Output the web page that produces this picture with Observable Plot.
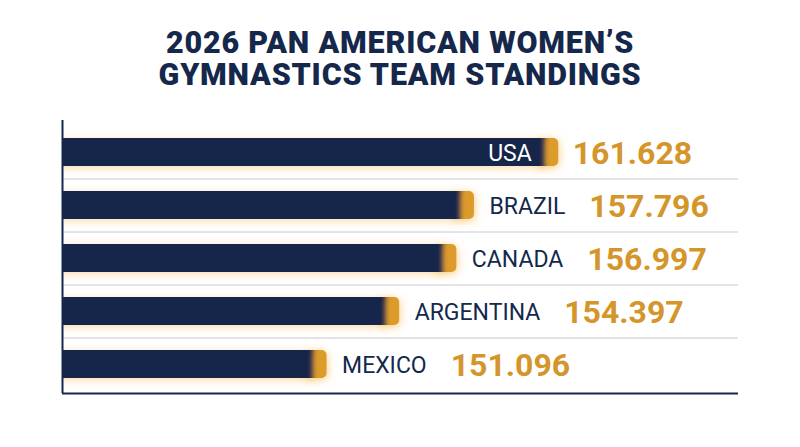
<!DOCTYPE html>
<html>
<head>
<meta charset="utf-8">
<script src="https://cdn.jsdelivr.net/npm/d3@7"></script>
<script src="https://cdn.jsdelivr.net/npm/@observablehq/plot@0.6"></script>
<style>
  html, body { margin: 0; padding: 0; background: #ffffff; }
  #wrap { width: 800px; height: 447px; position: relative; overflow: hidden; }
  #title {
    height: 100px; box-sizing: border-box; padding-top: 27px;
    text-align: center; font-family: Roboto, sans-serif; font-weight: 900;
    font-size: 30.5px; line-height: 32px; letter-spacing: 0.8px; color: #15284b;
  }
  svg { display: block; }
</style>
</head>
<body>
<div id="wrap">
  <div id="title">2026 PAN AMERICAN WOMEN’S<br>GYMNASTICS TEAM STANDINGS</div>
  <div id="chart"></div>
</div>
<script>
const countries = ["USA", "BRAZIL", "CANADA", "ARGENTINA", "MEXICO"];
const scores = [161.628, 157.796, 156.997, 154.397, 151.096];
const scoreLabels = ["161.628", "157.796", "156.997", "154.397", "151.096"];
const xDomain = [139.07, 169.8];

const NAVY = "#13284c";
const GOLD = "#dc9b2a";
const GOLD_TEXT = "#d4952a";

const labelFont = "400 23px Roboto";
const ctx = document.createElement("canvas").getContext("2d");
ctx.font = labelFont;

const data = countries.map((c, i) => ({
  country: c,
  score: scores[i],
  label: scoreLabels[i],
  inside: i === 0,
  nameWidth: ctx.measureText(c).width
}));

const step = 53.04;

const plot = Plot.plot({
  width: 800,
  height: 347,
  marginLeft: 62,
  marginRight: 62,
  marginTop: 20,
  marginBottom: 54,
  x: { domain: xDomain, axis: null },
  y: { type: "band", domain: countries, range: [25.5, 290.7], paddingInner: 0.474, paddingOuter: 0.237, axis: null },
  marks: [
    Plot.ruleY(countries.slice(0, -1), { y: d => d, dy: step / 2, stroke: "#c6cad0", strokeWidth: 1.2 }),
    Plot.ruleY(countries.slice(-1), { y: d => d, dy: 29, stroke: NAVY, strokeWidth: 2 }),
    Plot.barX(data, { x1: "score", x2: "score", y: "country", insetLeft: -22, fill: GOLD, rx: 5, ariaDescription: "cap" }),
    Plot.barX(data, { x1: xDomain[0], x2: "score", y: "country", insetLeft: -14, insetRight: 13, fill: NAVY, clip: true, ariaDescription: "bar" }),
    Plot.ruleX([xDomain[0]], { stroke: NAVY, strokeWidth: 2 }),
    Plot.text(data.filter(d => d.inside), { x: "score", y: "country", text: "country", textAnchor: "end", dx: -27, dy: 1, fill: "#ffffff", fontSize: 23, fontFamily: "Roboto", fontWeight: 400 }),
    Plot.text(data.filter(d => !d.inside), { x: "score", y: "country", text: "country", textAnchor: "start", dx: 15, dy: 1, fill: NAVY, fontSize: 23, fontFamily: "Roboto", fontWeight: 400 }),
    ...data.map(d => Plot.text([d], { x: "score", y: "country", text: "label", textAnchor: "start", dx: d.inside ? 14 : 15 + d.nameWidth + 24, dy: 1, fill: GOLD_TEXT, fontSize: 32, fontFamily: "Roboto", fontWeight: 700 }))
  ]
});

// glow + soft edge filters
const ns = "http://www.w3.org/2000/svg";
const defs = document.createElementNS(ns, "defs");
defs.innerHTML = `
  <filter id="glowCap" x="-60%" y="-60%" width="220%" height="220%">
    <feGaussianBlur in="SourceAlpha" stdDeviation="4" result="b"/>
    <feOffset in="b" dx="1" dy="2" result="o"/>
    <feFlood flood-color="#f6b23f" flood-opacity="0.6"/>
    <feComposite in2="o" operator="in" result="s"/>
    <feMerge><feMergeNode in="s"/><feMergeNode in="SourceGraphic"/></feMerge>
  </filter>
  <filter id="glowBar" x="-5%" y="-60%" width="110%" height="220%">
    <feGaussianBlur in="SourceGraphic" stdDeviation="2.5 0" result="soft"/>
    <feGaussianBlur in="SourceAlpha" stdDeviation="4" result="b"/>
    <feOffset in="b" dx="0" dy="2" result="o"/>
    <feFlood flood-color="#f6b23f" flood-opacity="0.45"/>
    <feComposite in2="o" operator="in" result="s"/>
    <feMerge><feMergeNode in="s"/><feMergeNode in="soft"/></feMerge>
  </filter>`;
plot.insertBefore(defs, plot.firstChild);
plot.querySelectorAll('g[aria-description="cap"] rect').forEach(r => r.setAttribute("filter", "url(#glowCap)"));
plot.querySelectorAll('g[aria-description="bar"] rect').forEach(r => r.setAttribute("filter", "url(#glowBar)"));

document.getElementById("chart").appendChild(plot);
</script>
</body>
</html>
